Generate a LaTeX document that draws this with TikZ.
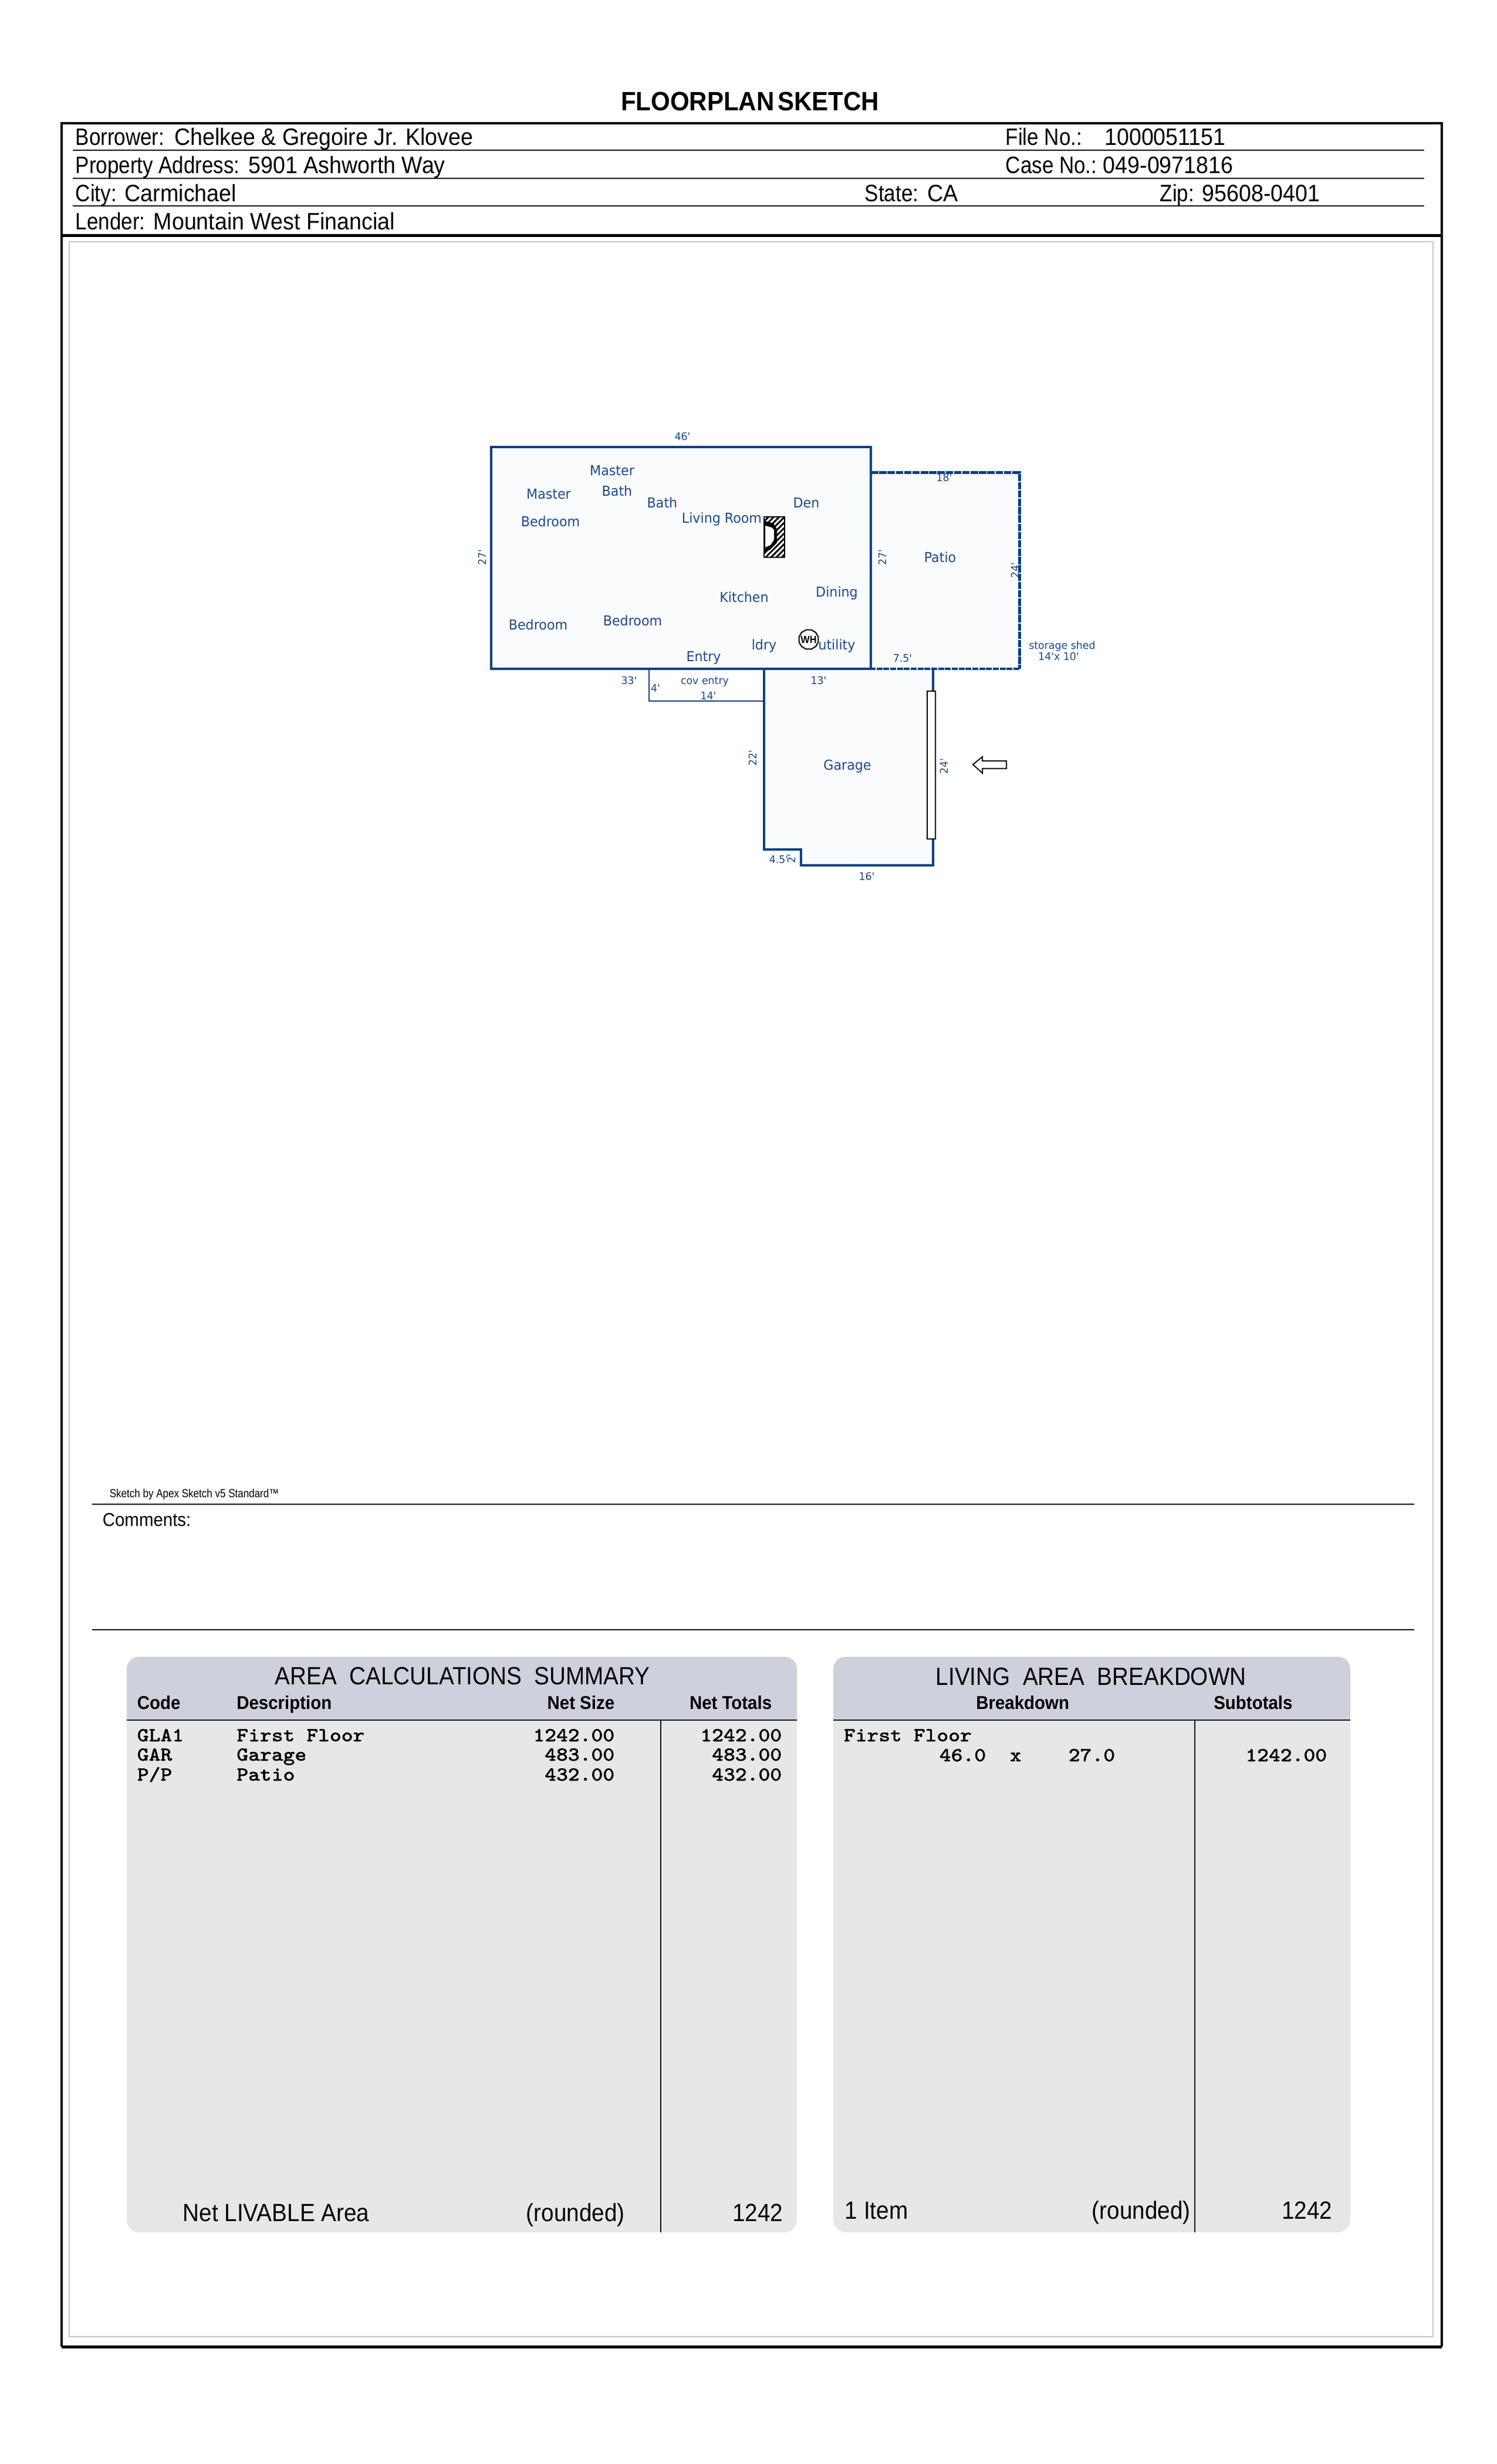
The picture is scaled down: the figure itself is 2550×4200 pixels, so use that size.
\documentclass[tikz,border=0pt]{standalone}
\usepackage{fontspec}
\usetikzlibrary{patterns.meta,shapes.geometric}
\setmainfont{Liberation Sans}
\newfontfamily\condfont[FakeStretch=0.93]{Liberation Sans}
\newfontfamily\keyfont[FakeStretch=0.865]{Liberation Sans}
\newfontfamily\titlefont[FakeStretch=0.91]{Liberation Sans}
\newfontfamily\panelfont[FakeStretch=0.93]{Liberation Sans}
\newfontfamily\apexfont[FakeStretch=0.86]{Liberation Sans}
\newfontfamily\planfont[FakeStretch=0.95]{DejaVu Sans}
\newfontfamily\dimfont[FakeStretch=0.97]{DejaVu Sans}
\newfontfamily\codefont[FakeStretch=1.12,FakeBold=1.6]{Latin Modern Mono}
\definecolor{planblue}{HTML}{0A4084}
\definecolor{plantext}{HTML}{1C4A8C}
\definecolor{panelhead}{HTML}{CED1DC}
\definecolor{panelbody}{HTML}{E7E7E7}
\tikzset{
  form/.style={anchor=base west, inner sep=0pt, font=\condfont\fontsize{9.7}{10}\selectfont},
  formkey/.style={form, font=\keyfont\fontsize{9.7}{10}\selectfont},
  panel/.style={anchor=base west, inner sep=0pt, font=\titlefont\fontsize{10.2}{11}\selectfont},
  panelr/.style={panel, anchor=base east},
  headb/.style={anchor=base west, inner sep=0pt, font=\panelfont\bfseries\fontsize{7.6}{8}\selectfont},
  headr/.style={headb, anchor=base east},
  row/.style={anchor=base west, inner sep=0pt, font=\codefont\fontsize{8}{9}\selectfont},
  rowr/.style={row, anchor=base east},
  room/.style={inner sep=0pt, text=plantext, font=\planfont\fontsize{5.6}{6}\selectfont},
  dim/.style={inner sep=0pt, text=plantext, font=\dimfont\fontsize{4.3}{5}\selectfont},
  wall/.style={draw=planblue, line width=.75pt, line join=miter, fill=white!98!planblue},
}
\begin{document}
\begin{tikzpicture}[x=.24pt, y=-.24pt]
  \useasboundingbox (0,0) rectangle (2550,4200);
  % page frame
  \draw[line width=.85pt] (105,401) -- (105,210) -- (2457,210) -- (2457,401);
  \draw[line width=.85pt] (105,401) -- (105,4000) (2457,401) -- (2457,4000);
  \draw[line width=1.2pt] (105,401) -- (2457,401);
  \draw[line width=1.2pt] (105,4000) -- (2457,4000);
  \draw[black!22, line width=.4pt] (118,412) rectangle (2442,3983);
  \foreach \y in {256,303.7,351}
    \draw[line width=.4pt] (124,\y) -- (2427,\y);
  \node[inner sep=0pt, anchor=base, font=\panelfont\bfseries\fontsize{10.85}{12}\selectfont] (title) at (1278,188) {FLOORPLAN\hspace{.12em}SKETCH};
  % header fields
  \node[formkey] (borrower) at (128,247) {Borrower:};
  \node[form] (borrowerv) at (296.5,247) {Chelkee \& Gregoire Jr. Klovee};
  \node[formkey] (address) at (128,295) {Property Address:};
  \node[form] (addressv) at (423,295) {5901 Ashworth Way};
  \node[formkey] (city) at (128,343.5) {City:};
  \node[form] (cityv) at (212,343.5) {Carmichael};
  \node[formkey] (lender) at (128,391.5) {Lender:};
  \node[form] (lenderv) at (261,391.5) {Mountain West Financial};
  \node[formkey] (file) at (1713,247) {File No.:};
  \node[form] (filev) at (1881.5,247) {1000051151};
  \node[formkey] (case) at (1713,295) {Case No.:};
  \node[form] (casev) at (1879,295) {049-0971816};
  \node[formkey] (state) at (1473,343.5) {State:};
  \node[form] (statev) at (1580,343.5) {CA};
  \node[formkey] (zip) at (1976,343.5) {Zip:};
  \node[form] (zipv) at (2048,343.5) {95608-0401};
  % house, cov entry, garage
  \fill[white!98!planblue] (1484,805) rectangle (1737,1140);
  \draw[wall] (837,762) rectangle (1484,1140);
  \draw[planblue, line width=.5pt] (1106,1140) -- (1106,1195) -- (1302,1195);
  \draw[wall] (1302,1140) -- (1302,1448) -- (1365,1448) -- (1365,1475) -- (1590,1475) -- (1590,1140);
  \draw[planblue, line width=.75pt] (1302,1140) -- (1484,1140);
  % patio
  \draw[planblue, line width=1.2pt, dash pattern=on 3pt off .4pt] (1484,805.5) -- (1737,805.5) -- (1737,1140);
  \draw[planblue, line width=.8pt, dash pattern=on 2.4pt off .4pt] (1737,1140) -- (1484,1140);
  \draw[black, fill=white, line width=.35pt] (1580,1178) rectangle (1594,1430);
  \draw[black, fill=white, line width=.45pt] (1658,1303) -- (1674,1290) -- (1674,1297) -- (1715,1297) -- (1715,1310) -- (1674,1310) -- (1674,1318) -- cycle;
  % fireplace
  \draw[black, line width=.45pt, pattern={Lines[angle=45, distance=1.55pt, line width=.7pt]}] (1302,881) rectangle (1337,950);
  \fill[black] (1303,888) -- (1318,892) -- (1324,902) -- (1324,925) -- (1312,937) -- (1303,942) -- cycle;
  \fill[white] (1304,896) -- (1315,899) -- (1319,903) -- (1319,920) -- (1313,929) -- (1304,933) -- cycle;
  % water heater
  \node[draw, regular polygon, regular polygon sides=12, minimum size=34*.24pt, inner sep=0pt, line width=.5pt] (wh) at (1378,1090) {};
  \node[inner sep=0pt, font=\panelfont\bfseries\fontsize{4.2}{5}\selectfont] (whtext) at (wh.center) {WH};
  % rooms
  \foreach \name/\xx/\yy/\txt in {mastera/1043/802/Master, bathm/1051.5/837/Bath, masterb/935/842.5/Master,
      bedm/938/889/Bedroom, bath/1128.5/857/Bath, living/1230/885/Living Room, den/1374/857/Den,
      patio/1602/950/Patio, kitchen/1268/1017.5/Kitchen, dining/1426/1011/Dining, beda/917/1065/Bedroom,
      bedb/1078/1058/Bedroom, ldry/1302/1101/ldry, utility/1426/1101/utility, entry/1199/1121/Entry,
      garage/1444/1306/Garage}
    \node[room] (\name) at (\xx,\yy) {\txt};
  % dimensions
  \foreach \name/\xx/\yy/\txt in {dtop/1163/744/46', dpatio/1609/814/18', dstep/1538/1122/7.5', dcova/1072/1160/33',
      dcovb/1117/1173/4', dcovc/1207/1186/14', dgar/1395/1160/13', dnotch/1327/1465/4.5', dgarb/1477/1494/16',
      cov/1201/1162/cov entry, shed/1810/1102/storage shed, shedb/1804/1119/14'x 10'}
    \node[dim] (\name) at (\xx,\yy) {\txt};
  \foreach \name/\xx/\yy/\txt in {dleft/822/950/27', dmid/1504/950/27', dpatr/1730/972/24', dgarl/1283/1292/22',
      dgarr/1609/1306/24', dnotchb/1349/1464/2'}
    \node[dim, rotate=90] (\name) at (\xx,\yy) {\txt};
  % comments
  \node[inner sep=0pt, anchor=base west, font=\apexfont\fontsize{4.75}{5}\selectfont] (apex) at (186,2552) {Sketch by Apex Sketch v5 Standard™};
  \draw[line width=.4pt] (157,2564) -- (2410,2564);
  \node[inner sep=0pt, anchor=base west, font=\panelfont\fontsize{7.6}{8}\selectfont] (comments) at (174,2601) {Comments:};
  \draw[line width=.4pt] (157,2778) -- (2410,2778);
  % panels
  \foreach \xa/\xb in {216/1358, 1420/2301} {
    \fill[panelbody, rounded corners=5pt] (\xa,2850) -- (\xa,3805) -- (\xb,3805) -- (\xb,2850) -- cycle;
    \fill[panelhead, rounded corners=5pt] (\xa,2932) -- (\xa,2824) -- (\xb,2824) -- (\xb,2932) -- cycle;
    \fill[panelhead] (\xa,2900) rectangle (\xb,2932);
    \draw[line width=.5pt] (\xa,2932) -- (\xb,2932);
  }
  \draw[line width=.3pt] (1126,2932) -- (1126,3805);
  \draw[line width=.3pt] (2036,2932) -- (2036,3805);
  % area calculations
  \node[panel] (areat) at (468,2871) {AREA\ \ CALCULATIONS\ \ SUMMARY};
  \node[headb] (hcode) at (233,2913) {Code};
  \node[headb] (hdesc) at (402.5,2913) {Description};
  \node[headr] (hsize) at (1048,2913) {Net Size};
  \node[headr] (htot) at (1316,2913) {Net Totals};
  \foreach \name/\yy/\code/\desc/\val in {gla/2968/GLA1/First Floor/1242.00, gar/3001/GAR/Garage/483.00, pp/3035/P\slash P/Patio/432.00} {
    \node[row] (\name code) at (233,\yy) {\code};
    \node[row] (\name desc) at (402.5,\yy) {\desc};
    \node[rowr] (\name size) at (1048,\yy) {\val};
    \node[rowr] (\name tot) at (1333,\yy) {\val};
  }
  \node[panel] (netl) at (311,3786) {Net LIVABLE Area};
  \node[panel] (rounda) at (896,3786) {(rounded)};
  \node[panelr] (tota) at (1335,3786) {1242};
  % living area
  \node[panel] (livet) at (1594,2872) {LIVING\ \ AREA\ \ BREAKDOWN};
  \node[headb] (hbreak) at (1662.5,2913) {Breakdown};
  \node[headb] (hsub) at (2067.5,2913) {Subtotals};
  \node[row] (floor) at (1437,2968) {First Floor};
  \node[row] (fa) at (1600,3002) {46.0};
  \node[row] (fx) at (1720,3002) {x};
  \node[row] (fb) at (1820,3002) {27.0};
  \node[rowr] (fs) at (2262,3002) {1242.00};
  \node[panel] (items) at (1439,3782) {1 Item};
  \node[panel] (roundb) at (1860,3782) {(rounded)};
  \node[panelr] (totb) at (2271,3782) {1242};
\end{tikzpicture}
\end{document}
